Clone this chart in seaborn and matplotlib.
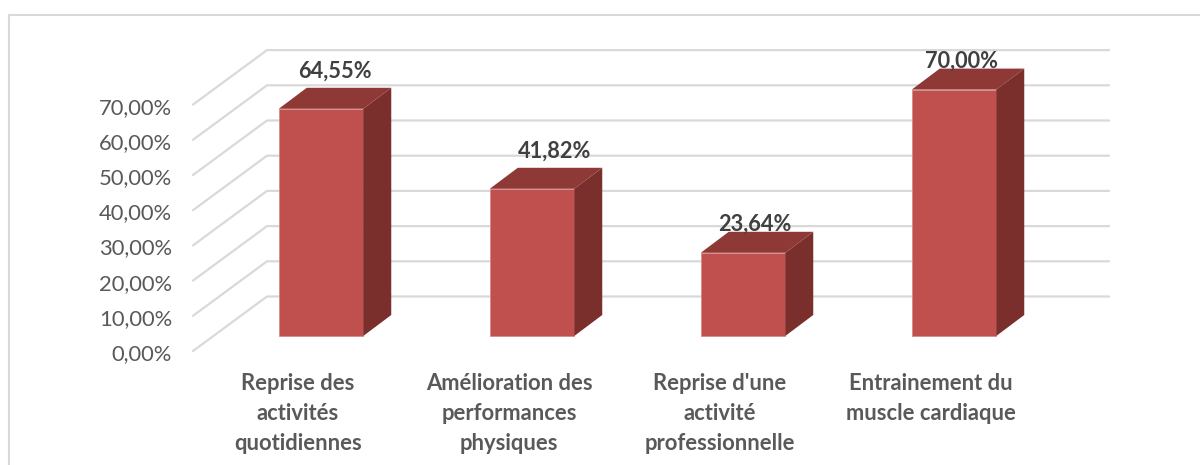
import pandas as pd
import seaborn as sns
import matplotlib.pyplot as plt
from matplotlib.patches import Polygon

categories = ["Reprise des\nactivités\nquotidiennes",
              "Amélioration des\nperformances\nphysiques",
              "Reprise d'une\nactivité\nprofessionnelle",
              "Entrainement du\nmuscle cardiaque"]
values = [64.55, 41.82, 23.64, 70.00]
value_labels = ["64,55%", "41,82%", "23,64%", "70,00%"]
tick_values = [0, 10, 20, 30, 40, 50, 60, 70]
tick_labels = ["0,00%", "10,00%", "20,00%", "30,00%", "40,00%", "50,00%", "60,00%", "70,00%"]

# the axes fill the figure, so pixels of the picture map straight to data units
W, H = 1200, 465
BAR_STEP = 211.0    # px between bars
UNIT = 3.52         # px per percent
X0, Y0 = 321.0, 336.0   # first bar centre, bar base
BAR_W = 84.5


def dx(px):
    return px / BAR_STEP


def dy(px):
    return px / UNIT


def xd(px):
    return (px - X0) / BAR_STEP


sns.set_theme(style="white")
plt.rcParams['font.family'] = ['Lato', 'DejaVu Sans']

fig = plt.figure(figsize=(W / 100, H / 100), dpi=100)
ax = fig.add_axes([0, 0, 1, 1])
grid_col = "#d9d9d9"
front, top, side = "#c0504d", "#8f3937", "#7b2f2d"

# outer chart frame, open on the right
ax.plot([xd(8.5), xd(8.5), xd(1200)], [dy(Y0 - 465), dy(Y0 - 15), dy(Y0 - 15)],
        color=grid_col, lw=1.5, zorder=1)

# walls: one diagonal and one back line per tick
wall_shift = dy(Y0 - 351)
depth_y = dy(54.5)
for v, lab in zip(tick_values, tick_labels):
    y_front = v + wall_shift
    y_back = y_front + depth_y
    ax.plot([xd(193), xd(267), xd(1109)], [y_front, y_back, y_back],
            color=grid_col, lw=1.6, zorder=1, solid_joinstyle="miter")
    ax.text(xd(172), y_front + dy(-3), lab, ha="right", va="center",
            fontsize=15.8, color="#595959")

df = pd.DataFrame({"cat": categories, "val": values})
sns.barplot(data=df, x="cat", y="val", color=front, saturation=1, width=BAR_W / BAR_STEP,
            edgecolor="#d98a88", linewidth=0.6, ax=ax, zorder=3)

# 3D faces of each bar
off_x, off_y = dx(28), dy(21)
half = BAR_W / BAR_STEP / 2
for i, v in enumerate(values):
    left, right = i - half, i + half
    ax.add_patch(Polygon([(left, v), (right, v), (right + off_x, v + off_y), (left + off_x, v + off_y)],
                         closed=True, facecolor=top, edgecolor="none", zorder=3))
    ax.add_patch(Polygon([(right, 0), (right + off_x, off_y), (right + off_x, v + off_y), (right, v)],
                         closed=True, facecolor=side, edgecolor="none", zorder=3))

# data labels sit a bit irregularly in the original
label_nudge_x = [14, 23, 12, 8]
label_nudge_y = [38, 38, 29, 28]
for i, (v, lab) in enumerate(zip(values, value_labels)):
    ax.text(i + dx(label_nudge_x[i]), v + dy(label_nudge_y[i]), lab, ha="center", va="center",
            fontsize=15.7, fontweight="bold", color="#404040", zorder=5)

# category labels
for i, lab in enumerate(categories):
    ax.text(i + dx(-23), dy(Y0 - 373), lab, ha="center", va="top", fontsize=15.8,
            fontweight="bold", color="#595959", linespacing=1.52)

ax.set_xlim(xd(0), xd(W))
ax.set_ylim(dy(Y0 - H), dy(Y0))
ax.axis("off")
fig.savefig("out.png", dpi=100, facecolor="white")
